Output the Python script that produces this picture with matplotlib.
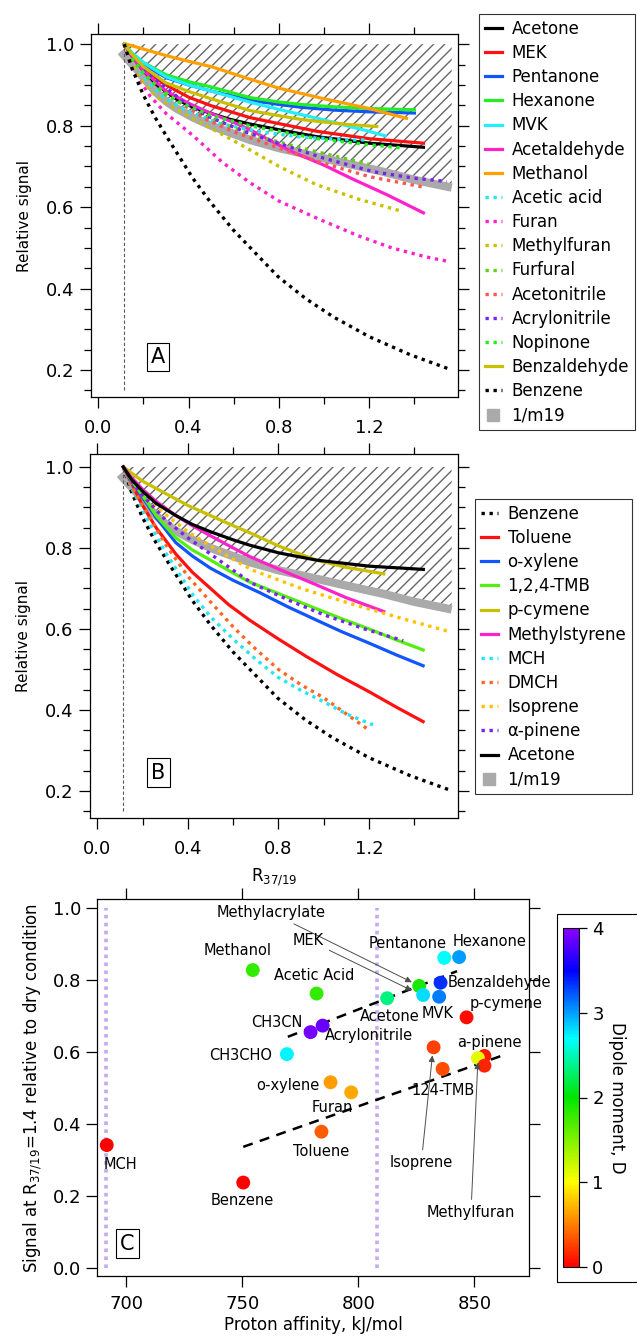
import numpy as np
import matplotlib
matplotlib.use("Agg")
import matplotlib.pyplot as plt
from matplotlib.colors import LinearSegmentedColormap, Normalize
from matplotlib.lines import Line2D
from matplotlib.patches import Rectangle
from matplotlib.ticker import MultipleLocator, FormatStrFormatter
import matplotlib.cm as cm

plt.rcParams['font.family'] = ['DejaVu Sans']
plt.rcParams['hatch.linewidth'] = 1.0
plt.rcParams['hatch.color'] = '0.4'

# ---------------- panel A / B data (R37/19 vs relative signal) ----------------
gray_x = [0.10, 0.135, 0.17, 0.25, 0.3, 0.347, 0.42, 0.5, 0.672, 0.8, 0.967, 1.1, 1.261, 1.4, 1.565]
gray_y = [0.982, 0.96, 0.939, 0.885, 0.86, 0.842, 0.82, 0.80, 0.765, 0.745, 0.724, 0.707, 0.687, 0.667, 0.648]

benz_x = [0.115, 0.15, 0.2, 0.25, 0.31, 0.42, 0.5, 0.598, 0.7, 0.797, 0.92, 1.04, 1.2, 1.38, 1.557]
benz_y = [1.0, 0.94, 0.875, 0.822, 0.767, 0.67, 0.61, 0.544, 0.485, 0.429, 0.375, 0.331, 0.282, 0.238, 0.202]

# panel A
acetone_x = [0.115, 0.15, 0.2, 0.26, 0.347, 0.42, 0.5, 0.58, 0.672, 0.8, 0.967, 1.2, 1.44]
acetone_y = [1.0, 0.97, 0.935, 0.9, 0.865, 0.845, 0.83, 0.816, 0.804, 0.79, 0.773, 0.757, 0.747]
mek_x = [0.115, 0.15, 0.2, 0.26, 0.3, 0.4, 0.5, 0.67, 0.8, 0.97, 1.2, 1.44]
mek_y = [1.0, 0.975, 0.945, 0.915, 0.9, 0.87, 0.849, 0.82, 0.805, 0.786, 0.768, 0.757]
pent_x = [0.115, 0.15, 0.2, 0.3, 0.4, 0.5, 0.67, 0.8, 0.9, 1.05, 1.2, 1.4]
pent_y = [1.0, 0.975, 0.95, 0.918, 0.9, 0.885, 0.863, 0.852, 0.845, 0.838, 0.834, 0.831]
hex_x = [0.115, 0.15, 0.2, 0.3, 0.4, 0.5, 0.67, 0.8, 0.9, 1.05, 1.2, 1.4]
hex_y = [1.0, 0.978, 0.955, 0.925, 0.908, 0.895, 0.869, 0.858, 0.852, 0.846, 0.842, 0.839]
mvk_x = [0.115, 0.15, 0.2, 0.3, 0.4, 0.5, 0.67, 0.8, 0.9, 1.0, 1.1, 1.2, 1.27]
mvk_y = [1.0, 0.978, 0.955, 0.92, 0.9, 0.885, 0.858, 0.84, 0.827, 0.814, 0.80, 0.786, 0.775]
acald_x = [0.115, 0.15, 0.2, 0.3, 0.4, 0.5, 0.6, 0.672, 0.76, 0.862, 1.0, 1.115, 1.28, 1.44]
acald_y = [1.0, 0.97, 0.935, 0.885, 0.855, 0.83, 0.808, 0.79, 0.764, 0.735, 0.703, 0.672, 0.63, 0.586]
meoh_x = [0.125, 0.2, 0.3, 0.4, 0.5, 0.65, 0.8, 1.0, 1.2, 1.365]
meoh_y = [1.0, 0.988, 0.972, 0.958, 0.945, 0.918, 0.892, 0.866, 0.842, 0.818]
acac_x = [0.115, 0.15, 0.2, 0.3, 0.4, 0.54, 0.716, 0.9, 1.115, 1.2]
acac_y = [1.0, 0.955, 0.915, 0.865, 0.835, 0.805, 0.785, 0.772, 0.765, 0.765]
furan_x = [0.115, 0.15, 0.229, 0.3, 0.421, 0.55, 0.672, 0.8, 0.98, 1.15, 1.3, 1.45, 1.557]
furan_y = [1.0, 0.94, 0.873, 0.83, 0.775, 0.71, 0.66, 0.615, 0.57, 0.53, 0.50, 0.478, 0.466]
mfur_x = [0.115, 0.18, 0.25, 0.3, 0.4, 0.495, 0.642, 0.8, 0.967, 1.15, 1.35]
mfur_y = [1.0, 0.92, 0.875, 0.855, 0.823, 0.795, 0.75, 0.70, 0.655, 0.62, 0.589]
furf_x = [0.115, 0.15, 0.2, 0.3, 0.5, 0.7, 0.9, 1.05, 1.2]
furf_y = [1.0, 0.965, 0.93, 0.875, 0.815, 0.775, 0.745, 0.725, 0.705]
acn_x = [0.115, 0.15, 0.2, 0.3, 0.4, 0.48, 0.6, 0.8, 1.0, 1.2, 1.432]
acn_y = [1.0, 0.965, 0.93, 0.88, 0.843, 0.815, 0.785, 0.745, 0.707, 0.675, 0.65]
acryl_x = [0.115, 0.15, 0.2, 0.288, 0.38, 0.48, 0.65, 0.819, 1.0, 1.218, 1.4, 1.543]
acryl_y = [1.0, 0.97, 0.939, 0.898, 0.858, 0.824, 0.785, 0.753, 0.72, 0.687, 0.671, 0.663]
nopi_x = [0.115, 0.15, 0.2, 0.26, 0.35, 0.5, 0.67, 0.97, 1.2, 1.35]
nopi_y = [1.0, 0.965, 0.93, 0.895, 0.86, 0.825, 0.80, 0.768, 0.753, 0.745]
bzal_x = [0.115, 0.15, 0.2, 0.3, 0.4, 0.5, 0.672, 0.9, 1.1, 1.233]
bzal_y = [1.0, 0.975, 0.945, 0.905, 0.884, 0.866, 0.837, 0.815, 0.803, 0.798]

# panel B
tol_x = [0.115, 0.16, 0.2, 0.26, 0.347, 0.42, 0.5, 0.58, 0.672, 0.8, 0.923, 1.06, 1.2, 1.32, 1.439]
tol_y = [1.0, 0.95, 0.905, 0.85, 0.785, 0.74, 0.70, 0.66, 0.622, 0.575, 0.532, 0.487, 0.445, 0.407, 0.371]
oxy_x = [0.115, 0.15, 0.2, 0.26, 0.347, 0.42, 0.5, 0.6, 0.716, 0.84, 0.967, 1.08, 1.2, 1.32, 1.439]
oxy_y = [1.0, 0.965, 0.925, 0.875, 0.813, 0.78, 0.75, 0.72, 0.69, 0.655, 0.622, 0.593, 0.565, 0.536, 0.509]
tmb_x = [0.115, 0.15, 0.2, 0.26, 0.347, 0.42, 0.5, 0.6, 0.672, 0.82, 0.967, 1.08, 1.2, 1.32, 1.439]
tmb_y = [1.0, 0.968, 0.93, 0.88, 0.825, 0.795, 0.77, 0.738, 0.716, 0.683, 0.65, 0.625, 0.60, 0.573, 0.548]
pcym_x = [0.115, 0.2, 0.3, 0.4, 0.5, 0.6, 0.672, 0.8, 0.967, 1.1, 1.265]
pcym_y = [1.0, 0.965, 0.935, 0.905, 0.88, 0.855, 0.838, 0.805, 0.77, 0.752, 0.736]
mst_x = [0.115, 0.15, 0.2, 0.26, 0.347, 0.42, 0.5, 0.6, 0.672, 0.8, 0.967, 1.1, 1.265]
mst_y = [1.0, 0.975, 0.945, 0.915, 0.88, 0.855, 0.83, 0.80, 0.779, 0.748, 0.709, 0.677, 0.643]
mch_x = [0.115, 0.15, 0.2, 0.229, 0.3, 0.421, 0.5, 0.6, 0.7, 0.8, 0.9, 1.0, 1.1, 1.218]
mch_y = [1.0, 0.95, 0.895, 0.862, 0.79, 0.685, 0.63, 0.575, 0.525, 0.48, 0.448, 0.42, 0.39, 0.363]
dmch_x = [0.115, 0.15, 0.2, 0.3, 0.4, 0.495, 0.6, 0.7, 0.8, 0.9, 1.0, 1.1, 1.2]
dmch_y = [1.0, 0.955, 0.905, 0.81, 0.73, 0.67, 0.605, 0.55, 0.50, 0.462, 0.43, 0.39, 0.35]
iso_x = [0.115, 0.15, 0.2, 0.273, 0.4, 0.5, 0.6, 0.686, 0.9, 1.115, 1.35, 1.557]
iso_y = [1.0, 0.965, 0.935, 0.895, 0.84, 0.805, 0.772, 0.745, 0.70, 0.663, 0.625, 0.593]
apin_x = [0.115, 0.15, 0.2, 0.3, 0.4, 0.5, 0.6, 0.686, 0.85, 1.0, 1.18, 1.351]
apin_y = [1.0, 0.965, 0.93, 0.87, 0.825, 0.785, 0.745, 0.712, 0.67, 0.635, 0.60, 0.571]
acet_b_x = [0.115, 0.15, 0.2, 0.26, 0.347, 0.42, 0.5, 0.6, 0.672, 0.8, 0.967, 1.2, 1.44]
acet_b_y = [1.0, 0.97, 0.94, 0.91, 0.88, 0.858, 0.84, 0.82, 0.807, 0.788, 0.77, 0.755, 0.747]

seriesA = [
    ("Acetone", acetone_x, acetone_y, "black", False),
    ("MEK", mek_x, mek_y, "#ff1111", False),
    ("Pentanone", pent_x, pent_y, "#1155ff", False),
    ("Hexanone", hex_x, hex_y, "#22ee22", False),
    ("MVK", mvk_x, mvk_y, "#22eeff", False),
    ("Acetaldehyde", acald_x, acald_y, "#ff22cc", False),
    ("Methanol", meoh_x, meoh_y, "#ffa000", False),
    ("Acetic acid", acac_x, acac_y, "#22e6f0", True),
    ("Furan", furan_x, furan_y, "#ff22cc", True),
    ("Methylfuran", mfur_x, mfur_y, "#c8c000", True),
    ("Furfural", furf_x, furf_y, "#66cc22", True),
    ("Acetonitrile", acn_x, acn_y, "#ff5555", True),
    ("Acrylonitrile", acryl_x, acryl_y, "#7a22ee", True),
    ("Nopinone", nopi_x, nopi_y, "#22ee22", True),
    ("Benzaldehyde", bzal_x, bzal_y, "#c8c000", False),
    ("Benzene", benz_x, benz_y, "black", True),
]
seriesB = [
    ("Benzene", benz_x, benz_y, "black", True),
    ("Toluene", tol_x, tol_y, "#ff1111", False),
    ("o-xylene", oxy_x, oxy_y, "#1155ff", False),
    ("1,2,4-TMB", tmb_x, tmb_y, "#55ee11", False),
    ("p-cymene", pcym_x, pcym_y, "#c8c000", False),
    ("Methylstyrene", mst_x, mst_y, "#ff22cc", False),
    ("MCH", mch_x, mch_y, "#22e6f0", True),
    ("DMCH", dmch_x, dmch_y, "#ff6622", True),
    ("Isoprene", iso_x, iso_y, "#ffc000", True),
    ("\u03b1-pinene", apin_x, apin_y, "#7a22ee", True),
    ("Acetone", acet_b_x, acet_b_y, "black", False),
]

# ---------------- panel C data ----------------
names = ["MCH", "Benzene", "Toluene", "Methanol", "Acetic Acid", "CH3CN",
         "Acrylonitrile", "CH3CHO", "o-xylene", "Furan", "Acetone",
         "Methylacrylate", "MEK", "MVK", "Benzaldehyde", "Pentanone",
         "Hexanone", "p-cymene", "Isoprene", "124-TMB", "pinene-red",
         "Methylfuran", "a-pinene"]
pa = [691.6, 750.4, 784.1, 754.5, 782.0, 779.4, 784.6, 769.2, 788.0, 796.9,
      812.4, 826.2, 827.9, 834.8, 835.4, 837.0, 843.4, 846.6, 832.4, 836.3,
      854.3, 851.5, 854.3]
sig = [0.342, 0.238, 0.379, 0.827, 0.762, 0.655, 0.673, 0.594, 0.516, 0.488,
       0.749, 0.783, 0.758, 0.753, 0.792, 0.861, 0.863, 0.696, 0.613, 0.553,
       0.589, 0.583, 0.562]
dip = [0.0, 0.0, 0.36, 1.8, 1.8, 3.92, 3.87, 2.72, 0.62, 0.66,
       2.35, 1.9, 2.8, 3.1, 3.35, 2.7, 3.0, 0.05, 0.25, 0.3,
       0.1, 1.1, 0.15]

fit1_x = [769.6, 842.5]
fit1_y = [0.642, 0.824]
fit2_x = [750.4, 862.4]
fit2_y = [0.337, 0.591]
pa_limits = [691.1, 808.2]

labels_c = [
    ("Methanol", 747.9, 0.881), ("Acetic Acid", 781.1, 0.811),
    ("Pentanone", 821.0, 0.901), ("Hexanone", 856.6, 0.906),
    ("Benzaldehyde", 860.8, 0.793), ("p-cymene", 863.5, 0.735),
    ("Acetone", 813.6, 0.698), ("MVK", 834.3, 0.707),
    ("CH3CN", 764.9, 0.682), ("Acrylonitrile", 804.7, 0.645),
    ("CH3CHO", 749.4, 0.589), ("a-pinene", 856.6, 0.626),
    ("o-xylene", 769.6, 0.508), ("124-TMB", 836.3, 0.493),
    ("Furan", 788.6, 0.446), ("Toluene", 784.1, 0.323),
    ("MCH", 697.7, 0.287), ("Benzene", 749.9, 0.189),
]
arrows_c = [
    ("Methylacrylate", 762.2, 0.987, 824.1, 0.790),
    ("MEK", 778.5, 0.910, 824.1, 0.767),
    ("Isoprene", 827.1, 0.293, 832.0, 0.598),
    ("Methylfuran", 848.5, 0.155, 851.5, 0.578),
]

W, H = 637, 1337
fig = plt.figure(figsize=(W / 100, H / 100), dpi=100)


def fa(l, r, t, b):
    return [l / W, 1 - b / H, (r - l) / W, (b - t) / H]


def style_ax(ax):
    ax.set_xlim(-0.032, 1.593)
    ax.xaxis.set_major_locator(MultipleLocator(0.4))
    ax.xaxis.set_minor_locator(MultipleLocator(0.2))
    ax.yaxis.set_major_locator(MultipleLocator(0.2))
    ax.yaxis.set_minor_locator(MultipleLocator(0.05))
    ax.tick_params(which='both', direction='out', top=True, right=True, labelsize=13)
    ax.tick_params(which='major', length=8, width=0.9)
    ax.tick_params(which='minor', length=5, width=0.9)
    ax.tick_params(axis='x', pad=8)
    ax.tick_params(axis='y', pad=4)
    ax.xaxis.set_major_formatter(FormatStrFormatter('%.1f'))
    ax.yaxis.set_major_formatter(FormatStrFormatter('%.1f'))
    for s in ax.spines.values():
        s.set_linewidth(0.9)
    ax.set_ylabel("Relative signal", fontsize=11, labelpad=10)


def draw_curves(ax, series):
    hx = np.linspace(0.12, 1.565, 200)
    hy = np.interp(hx, gray_x, gray_y)
    ax.fill_between(hx, hy, 1.0, facecolor='none', edgecolor='0.4', hatch='///', linewidth=0)
    ax.plot(gray_x, gray_y, color='#aaaaaa', lw=6, solid_capstyle='butt', zorder=2)
    ax.plot([0.115, 0.115], [0.15, 1.0], color='0.35', lw=0.8, ls=(0, (3, 2)), zorder=2)
    handles = []
    for lab, x, y, c, dotted in series:
        if dotted:
            ln, = ax.plot(x, y, color=c, lw=2.4, ls=(0, (1, 1.4)), zorder=3)
        else:
            ln, = ax.plot(x, y, color=c, lw=2.3, zorder=3)
        handles.append(ln)
    return handles


axA = fig.add_axes(fa(91, 458, 34, 397))
hA = draw_curves(axA, seriesA)
style_ax(axA)
axA.set_ylim(0.134, 1.025)
axA.text(0.265, 0.232, "A", fontsize=15, ha='center', va='center',
         bbox=dict(boxstyle='square,pad=0.2', fc='white', ec='black', lw=0.8))

axB = fig.add_axes(fa(90, 458, 454, 818))
hB = draw_curves(axB, seriesB)
style_ax(axB)
axB.set_ylim(0.133, 1.032)
axB.text(0.27, 0.245, "B", fontsize=15, ha='center', va='center',
         bbox=dict(boxstyle='square,pad=0.2', fc='white', ec='black', lw=0.8))
axB.set_xlabel("R$_{37/19}$", fontsize=12, labelpad=6)

gray_handle = Line2D([], [], marker='s', ms=8, color='#aaaaaa', ls='none')
leg_kw = dict(fontsize=12, frameon=True, fancybox=False, edgecolor='black',
              handlelength=1.0, handletextpad=0.6, labelspacing=0.37,
              borderpad=0.35, borderaxespad=0, loc='upper left')
legA = fig.legend(hA + [gray_handle], [s[0] for s in seriesA] + ["1/m19"],
                  bbox_to_anchor=(479 / W, 1 - 14 / H), **leg_kw)
legA.get_frame().set_linewidth(0.8)
legB = fig.legend(hB + [gray_handle], [s[0] for s in seriesB] + ["1/m19"],
                  bbox_to_anchor=(475 / W, 1 - 499 / H), **leg_kw)
legB.get_frame().set_linewidth(0.8)

# ---------------- panel C ----------------
cmap = LinearSegmentedColormap.from_list("igor_rainbow", [
    (0.0, (1.0, 0.0, 0.0)), (0.125, (1.0, 0.5, 0.0)), (0.25, (1.0, 1.0, 0.0)),
    (0.5, (0.0, 0.9, 0.0)), (0.675, (0.0, 1.0, 1.0)), (0.875, (0.0, 0.0, 1.0)),
    (1.0, (0.55, 0.0, 1.0))])
norm = Normalize(0, 4)

axC = fig.add_axes(fa(97, 529, 899, 1276))
for xv in pa_limits:
    axC.plot([xv, xv], [0.0, 1.0], color='#c4aaf0', lw=2.6, ls=(0, (1, 1.2)), zorder=1)
axC.plot(fit1_x, fit1_y, color='black', lw=1.8, ls=(0, (4, 3)), zorder=2)
axC.plot(fit2_x, fit2_y, color='black', lw=1.8, ls=(0, (4, 3)), zorder=2)
axC.scatter(pa, sig, c=dip, cmap=cmap, norm=norm, s=100, edgecolors='none', zorder=3)
for t, x, y in labels_c:
    axC.text(x, y, t, fontsize=10.5, ha='center', va='center', zorder=4)
for t, x, y, ax_, ay in arrows_c:
    axC.annotate(t, xy=(ax_, ay), xytext=(x, y), fontsize=10.5, ha='center', va='center',
                 arrowprops=dict(arrowstyle='-|>', color='0.3', lw=0.7,
                                 mutation_scale=9, shrinkA=2, shrinkB=2), zorder=4)
axC.text(700.5, 0.069, "C", fontsize=15, ha='center', va='center',
         bbox=dict(boxstyle='square,pad=0.2', fc='white', ec='black', lw=0.8))
axC.set_xlim(687.4, 873.5)
axC.set_ylim(-0.021, 1.024)
axC.xaxis.set_major_locator(MultipleLocator(50))
axC.yaxis.set_major_locator(MultipleLocator(0.2))
axC.yaxis.set_major_formatter(FormatStrFormatter('%.1f'))
axC.tick_params(direction='out', top=True, right=True, labelsize=13, length=8, width=0.9)
axC.tick_params(axis='x', pad=6)
for s in axC.spines.values():
    s.set_linewidth(0.9)
axC.set_xlabel("Proton affinity, kJ/mol", fontsize=12, labelpad=2)
axC.set_ylabel("Signal at R$_{37/19}$=1.4 relative to dry condition", fontsize=12, labelpad=6)

fig.patches.append(Rectangle((557 / W, 1 - 1282 / H), 0.2, (1282 - 914) / H,
                             transform=fig.transFigure, fill=False, ec='black', lw=0.8))
cax = fig.add_axes(fa(563, 579, 928, 1267))
cb = fig.colorbar(cm.ScalarMappable(norm=norm, cmap=cmap), cax=cax, ticks=[0, 1, 2, 3, 4])
cb.outline.set_linewidth(0.8)
cax.tick_params(labelsize=13, direction='out', length=6, width=0.9)
cb.set_label("Dipole moment, D", fontsize=12, rotation=270, labelpad=16)

fig.savefig("out.png", dpi=100)
